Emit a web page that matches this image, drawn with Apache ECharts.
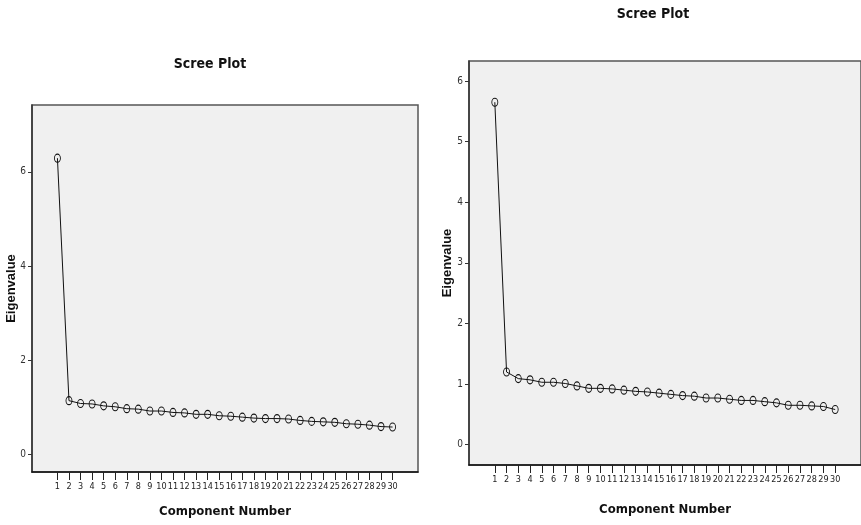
<!DOCTYPE html>
<html>
<head>
<meta charset="utf-8">
<script src="https://cdn.jsdelivr.net/npm/echarts@6/dist/echarts.min.js"></script>
<style>
  html, body { margin: 0; padding: 0; background: #fff; }
  #main { width: 861px; height: 525px; }
</style>
</head>
<body>
<div id="main"></div>
<script>
// component numbers (x axis)
var components = [1, 2, 3, 4, 5, 6, 7, 8, 9, 10, 11, 12, 13, 14, 15,
                  16, 17, 18, 19, 20, 21, 22, 23, 24, 25, 26, 27, 28, 29, 30];
// eigenvalues
var leftEigen = [6.29, 1.14, 1.08, 1.07, 1.03, 1.01, 0.97, 0.96, 0.92, 0.92,
                 0.89, 0.88, 0.85, 0.85, 0.82, 0.81, 0.79, 0.77, 0.76, 0.76,
                 0.75, 0.72, 0.70, 0.69, 0.68, 0.65, 0.64, 0.62, 0.59, 0.58];
var rightEigen = [5.65, 1.20, 1.09, 1.07, 1.03, 1.03, 1.01, 0.97, 0.93, 0.93,
                  0.92, 0.90, 0.88, 0.87, 0.85, 0.83, 0.81, 0.80, 0.77, 0.77,
                  0.75, 0.73, 0.73, 0.71, 0.69, 0.65, 0.65, 0.64, 0.63, 0.58];
var leftTicks = [0, 2, 4, 6];
var rightTicks = [0, 1, 2, 3, 4, 5, 6];

// "condensed" goes into the css font shorthand (style slot) to get the narrow face
var narrow = "'DejaVu Sans', sans-serif";
var wide = "'Liberation Sans', Arial, sans-serif";

function pairs(vals) {
    return components.map(function (c, i) { return [c, vals[i]]; });
}

function xAxisFor(idx, gap) {
    return {
        type: 'value', gridIndex: idx, min: -1.2, max: 32.2,
        name: 'Component Number', nameLocation: 'middle', nameGap: gap, nameMoveOverlap: false,
        nameTextStyle: { fontFamily: narrow, fontStyle: 'condensed', fontWeight: 'bold', fontSize: 13, color: '#111' },
        splitLine: { show: false },
        axisLine: { show: true, onZero: false, lineStyle: { color: '#111', width: 1.5 } },
        axisTick: { show: true, customValues: components, length: 8, lineStyle: { color: '#222' } },
        axisLabel: { customValues: components, margin: 10, hideOverlap: false, showMaxLabel: true,
                     fontFamily: narrow, fontStyle: 'condensed', fontSize: 9, color: '#222' }
    };
}

function yAxisFor(idx, min, max, ticks, gap) {
    return {
        type: 'value', gridIndex: idx, min: min, max: max,
        name: 'Eigenvalue', nameLocation: 'middle', nameGap: gap, nameRotate: 90, nameMoveOverlap: false,
        nameTextStyle: { fontFamily: wide, fontWeight: 'bold', fontSize: 13, color: '#111' },
        splitLine: { show: false },
        axisLine: { show: true, onZero: false, lineStyle: { color: '#333', width: 1.5 } },
        axisTick: { show: true, customValues: ticks, length: 4, lineStyle: { color: '#333' } },
        axisLabel: { customValues: ticks, margin: 6, fontFamily: narrow, fontStyle: 'condensed',
                     fontSize: 10, color: '#333' }
    };
}

function lineSeries(idx, vals) {
    return {
        type: 'line', xAxisIndex: idx, yAxisIndex: idx,
        data: pairs(vals),
        symbol: 'circle', symbolSize: [6, 8],
        itemStyle: { color: 'transparent', borderColor: '#111', borderWidth: 1 },
        lineStyle: { color: '#111', width: 1 },
        emphasis: { disabled: true },
        animation: false
    };
}

var chart = echarts.init(document.getElementById('main'));
chart.setOption({
    backgroundColor: '#fff',
    title: [
        { text: 'Scree Plot', left: 210, top: 57, textAlign: 'center', padding: 0,
          textStyle: { fontFamily: narrow, fontStyle: 'condensed', fontWeight: 'bold', fontSize: 14, color: '#111' } },
        { text: 'Scree Plot', left: 653, top: 7, textAlign: 'center', padding: 0,
          textStyle: { fontFamily: narrow, fontStyle: 'condensed', fontWeight: 'bold', fontSize: 14, color: '#111' } }
    ],
    grid: [
        { left: 32, top: 105, right: 443, bottom: 53, show: true,
          backgroundColor: '#f0f0f0', borderColor: '#555', borderWidth: 1.5 },
        { left: 469, top: 61, right: -11, bottom: 60, show: true,
          backgroundColor: '#f0f0f0', borderColor: '#555', borderWidth: 1.5 }
    ],
    xAxis: [xAxisFor(0, 33), xAxisFor(1, 38)],
    yAxis: [yAxisFor(0, -0.375, 7.42, leftTicks, 14), yAxisFor(1, -0.335, 6.33, rightTicks, 15)],
    series: [lineSeries(0, leftEigen), lineSeries(1, rightEigen)]
});
</script>
</body>
</html>
